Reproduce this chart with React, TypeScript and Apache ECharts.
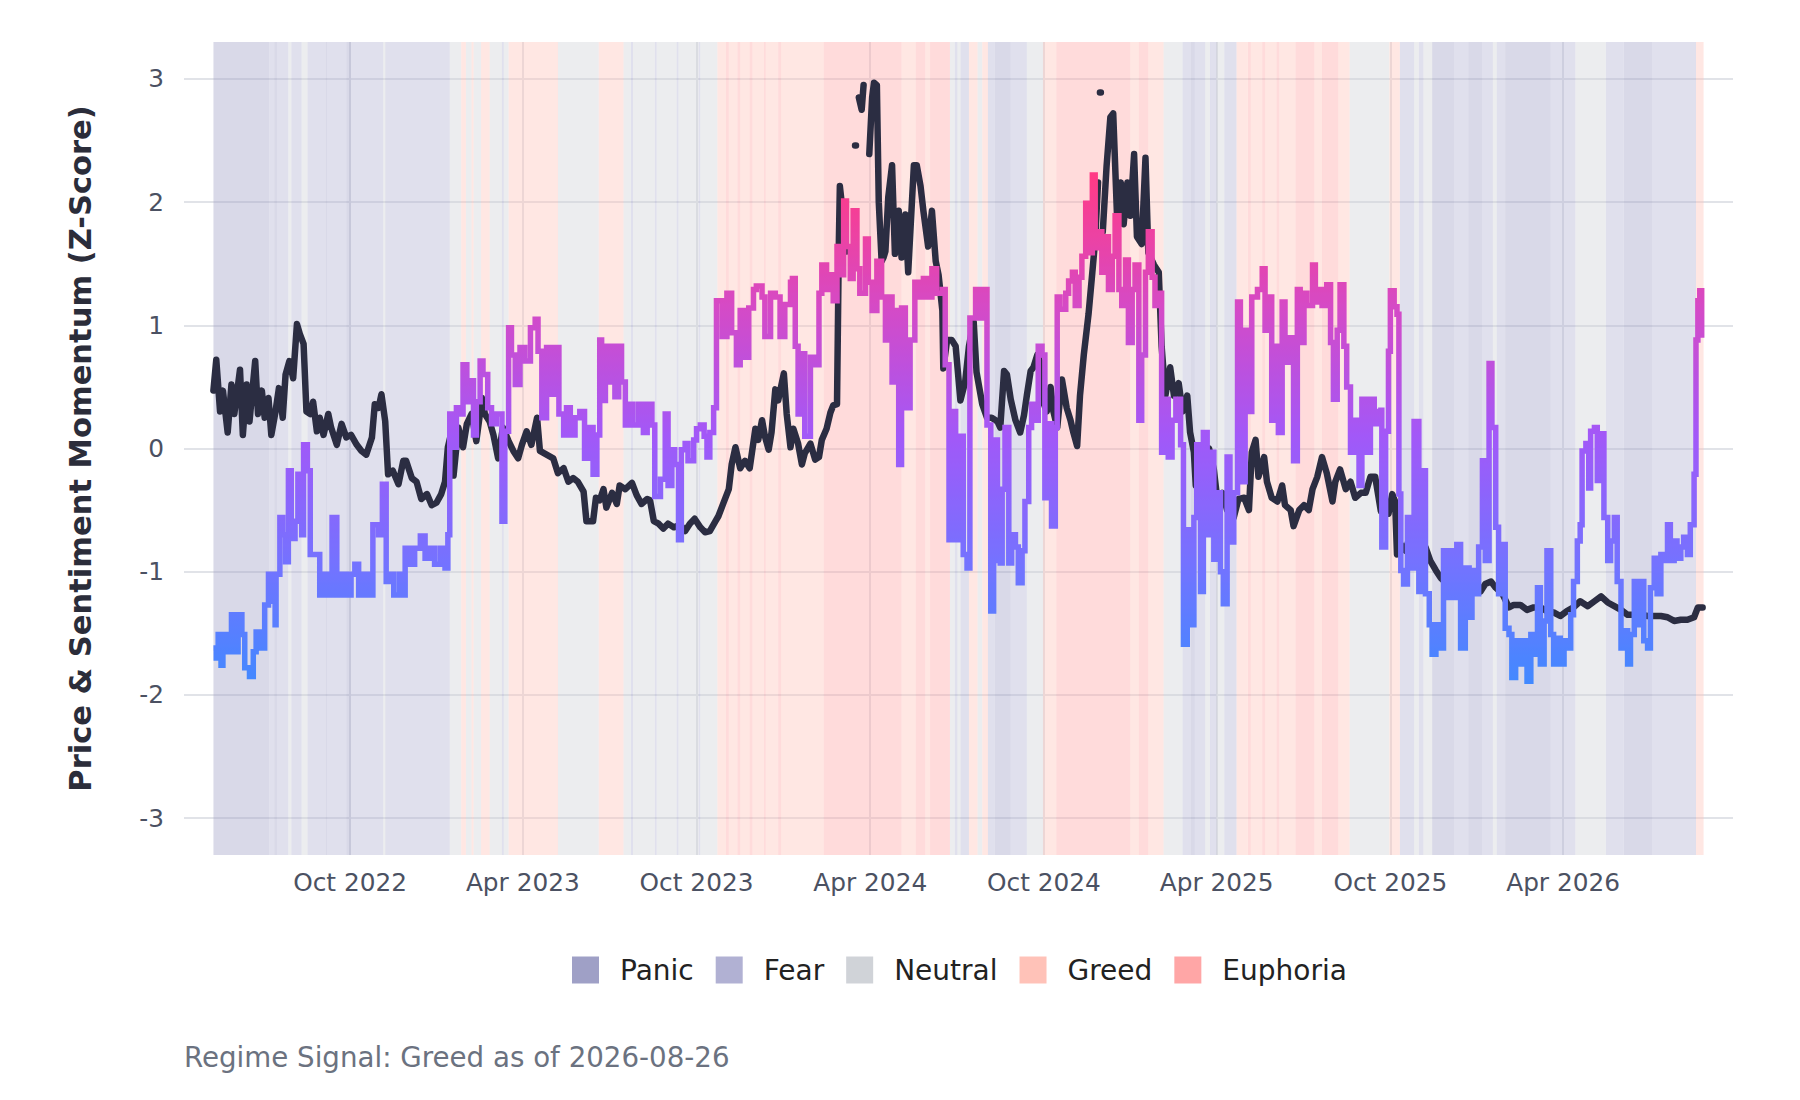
import { useEffect, useRef } from "react";
import * as echarts from "echarts";

// day 0 of the series = 2022-05-10
const START = Date.UTC(2022, 4, 10);
const DAY = 86400000;
const X_MIN_DAY = -31;
const X_MAX_DAY = 1601;

const tickDates = ["2022-10-01", "2023-04-01", "2023-10-01", "2024-04-01", "2024-10-01", "2025-04-01", "2025-10-01", "2026-04-01"];
const tickLabels = ["Oct 2022", "Apr 2023", "Oct 2023", "Apr 2024", "Oct 2024", "Apr 2025", "Oct 2025", "Apr 2026"];
const yTicks = [-3, -2, -1, 0, 1, 2, 3];

const regimeNames = ["Panic", "Fear", "Neutral", "Greed", "Euphoria"];
const regimeColors = ["#9fa0c6", "#b1b1d3", "#d0d3d8", "#ffc2b8", "#ffa6a6"];
const regimeBandColors = ["rgba(159,160,198,0.4)", "rgba(177,177,211,0.4)", "rgba(208,211,216,0.4)", "rgba(255,194,184,0.4)", "rgba(255,166,166,0.4)"];

// [start day, regime] — each run lasts until the next start
const regimeRuns: [number, string][] = [
  [0, "Panic"], [59, "Fear"], [64, "Panic"], [67, "Fear"], [79, "Neutral"], [82, "Fear"], [93, "Neutral"], [99, "Fear"],
  [118, "Panic"], [120, "Fear"], [140, "Panic"], [145, "Fear"], [179, "Neutral"], [181, "Fear"], [249, "Neutral"],
  [261, "Greed"], [266, "Neutral"], [272, "Greed"], [274, "Neutral"], [282, "Greed"], [291, "Neutral"], [304, "Fear"],
  [306, "Neutral"], [311, "Greed"], [363, "Neutral"], [406, "Greed"], [432, "Neutral"], [440, "Fear"], [442, "Neutral"],
  [465, "Fear"], [467, "Neutral"], [488, "Fear"], [490, "Neutral"], [511, "Fear"], [513, "Neutral"], [531, "Greed"],
  [540, "Euphoria"], [543, "Greed"], [552, "Euphoria"], [555, "Greed"], [565, "Euphoria"], [568, "Greed"], [580, "Euphoria"],
  [582, "Greed"], [595, "Euphoria"], [598, "Greed"], [643, "Euphoria"], [725, "Greed"], [740, "Euphoria"], [750, "Greed"],
  [755, "Euphoria"], [776, "Neutral"], [781, "Fear"], [784, "Neutral"], [787, "Fear"], [796, "Greed"], [805, "Neutral"],
  [810, "Greed"], [816, "Fear"], [823, "Panic"], [840, "Fear"], [857, "Neutral"], [874, "Greed"], [888, "Euphoria"],
  [966, "Greed"], [975, "Euphoria"], [985, "Greed"], [1001, "Neutral"], [1021, "Fear"], [1030, "Panic"], [1034, "Fear"],
  [1045, "Neutral"], [1050, "Fear"], [1057, "Neutral"], [1065, "Fear"], [1078, "Greed"], [1090, "Euphoria"], [1093, "Greed"],
  [1105, "Euphoria"], [1108, "Greed"], [1120, "Euphoria"], [1123, "Greed"], [1140, "Euphoria"], [1160, "Greed"],
  [1168, "Euphoria"], [1185, "Greed"], [1197, "Neutral"], [1239, "Greed"], [1250, "Fear"], [1265, "Neutral"], [1270, "Fear"],
  [1275, "Neutral"], [1284, "Panic"], [1307, "Fear"], [1322, "Panic"], [1337, "Fear"], [1348, "Neutral"], [1352, "Fear"],
  [1361, "Panic"], [1409, "Fear"], [1435, "Neutral"], [1467, "Fear"], [1486, "Panic"], [1516, "Fear"], [1562, "Greed"],
];
const REGIME_END_DAY = 1570;

// price momentum z-score, [day, value]; null = missing
const pricePoints: [number, number | null][] = [
  [0, 0.47], [3, 0.72], [7, 0.3], [10, 0.47], [15, 0.13], [19, 0.52], [22, 0.28], [28, 0.64], [31, 0.11], [35, 0.52],
  [38, 0.22], [44, 0.71], [47, 0.28], [51, 0.47], [54, 0.25], [58, 0.41], [61, 0.11], [65, 0.28], [69, 0.49], [73, 0.25],
  [76, 0.6], [80, 0.71], [84, 0.57], [88, 1.01], [91, 0.93], [95, 0.85], [98, 0.3], [102, 0.28], [105, 0.38], [109, 0.14],
  [112, 0.25], [116, 0.11], [121, 0.28], [124, 0.17], [130, 0.03], [135, 0.2], [140, 0.09], [145, 0.11], [151, 0.03],
  [156, -0.02], [161, -0.05], [167, 0.09], [170, 0.36], [174, 0.33], [177, 0.44], [181, 0.22], [184, -0.21], [189, -0.18],
  [195, -0.29], [200, -0.1], [203, -0.1], [209, -0.24], [214, -0.27], [219, -0.41], [225, -0.37], [230, -0.46], [235, -0.44],
  [240, -0.37], [244, -0.27], [247, 0.01], [251, 0.14], [253, -0.22], [258, 0.17], [263, 0.01], [267, 0.2], [272, 0.28],
  [277, 0.06], [283, 0.41], [286, 0.28], [291, 0.22], [295, 0.11], [300, -0.08], [305, 0.17], [311, 0.06], [316, -0.02],
  [321, -0.08], [325, 0.03], [330, 0.14], [335, 0.03], [341, 0.25], [344, -0.02], [351, -0.05], [358, -0.08], [363, -0.2],
  [369, -0.16], [374, -0.27], [379, -0.24], [384, -0.27], [390, -0.35], [393, -0.59], [400, -0.59], [403, -0.4],
  [407, -0.42], [411, -0.33], [414, -0.48], [420, -0.36], [425, -0.45], [428, -0.3], [434, -0.33], [441, -0.28], [446, -0.38],
  [451, -0.45], [457, -0.41], [460, -0.42], [464, -0.59], [469, -0.61], [474, -0.65], [479, -0.61], [485, -0.64], [492, -0.62],
  [497, -0.67], [502, -0.61], [507, -0.57], [513, -0.64], [518, -0.68], [523, -0.67], [529, -0.59], [532, -0.55], [537, -0.45],
  [543, -0.33], [546, -0.13], [550, 0.01], [555, -0.16], [560, -0.1], [565, -0.16], [571, 0.16], [574, 0.07], [578, 0.23],
  [581, 0.1], [585, -0.01], [588, 0.13], [592, 0.48], [595, 0.39], [601, 0.61], [604, 0.28], [608, 0.01], [611, 0.16],
  [616, 0.04], [620, -0.13], [623, -0.04], [629, 0.04], [634, -0.09], [638, -0.07], [641, 0.07], [646, 0.16], [650, 0.29],
  [653, 0.35], [657, 0.36], [659, 1.7], [660, 2.13], [664, 1.85], [667, 1.6], [668, null], [676, 2.46], [677, 2.46],
  [678, null], [680, 2.85], [683, 2.75], [685, 2.95], [686, null], [691, 2.39], [694, 2.85], [696, 2.97], [699, 2.95],
  [701, 2.0], [704, 1.52], [706, 1.55], [708, 1.6], [711, 2.04], [715, 2.3], [718, 1.58], [722, 1.93], [725, 1.55],
  [729, 1.9], [732, 1.43], [738, 2.3], [741, 2.3], [745, 2.13], [748, 1.93], [753, 1.64], [757, 1.93], [761, 1.52],
  [764, 1.41], [768, 1.12], [769, 0.65], [773, 0.88], [778, 0.88], [782, 0.83], [787, 0.39], [792, 0.54], [796, 0.83],
  [801, 1.03], [804, 0.62], [810, 0.36], [815, 0.25], [820, 0.25], [826, 0.22],
  [829, 0.17], [833, 0.63], [836, 0.6], [840, 0.4], [845, 0.23], [850, 0.13], [854, 0.27], [857, 0.43], [861, 0.63],
  [864, 0.66], [868, 0.76], [871, 0.7], [875, 0.36], [878, 0.3], [882, 0.5], [885, 0.3], [889, 0.17], [894, 0.56],
  [899, 0.33], [903, 0.23], [906, 0.13], [910, 0.02], [913, 0.43], [917, 0.76], [922, 1.09], [926, 1.43], [929, 1.69],
  [932, 2.16], [933, null], [934, 2.89], [935, 2.89], [936, null], [937, 1.76], [941, 2.29], [945, 2.69], [948, 2.72],
  [952, 1.89], [956, 2.16], [959, 1.82], [963, 2.16], [966, 1.89], [970, 2.39], [973, 1.72], [978, 1.66], [982, 2.36],
  [985, 1.59], [991, 1.49], [996, 1.43], [999, 0.83], [1003, 0.43], [1008, 0.66], [1012, 0.43], [1017, 0.53], [1021, 0.3],
  [1026, 0.43], [1029, 0.13], [1033, -0.03], [1035, -0.3], [1038, -0.03], [1043, -0.1], [1049, 0], [1054, -0.17],
  [1059, -0.5], [1063, -0.36], [1068, -0.5], [1075, -0.56], [1080, -0.41], [1086, -0.4], [1091, -0.5], [1094, -0.03],
  [1098, 0.07], [1101, -0.23], [1107, -0.07], [1110, -0.27], [1115, -0.4], [1121, -0.43], [1126, -0.3], [1129, -0.46],
  [1135, -0.5], [1138, -0.63], [1144, -0.5], [1149, -0.46], [1154, -0.5], [1158, -0.33], [1163, -0.23], [1168, -0.07],
  [1173, -0.2], [1179, -0.43], [1182, -0.27], [1187, -0.17], [1193, -0.33], [1198, -0.27], [1203, -0.4], [1209, -0.36],
  [1214, -0.36], [1219, -0.23], [1224, -0.23],
  [1230, -0.51], [1235, -0.45], [1238, -0.53], [1242, -0.37], [1245, -0.43], [1247, -0.86], [1251, -0.78], [1256, -0.83],
  [1261, -0.7], [1267, -0.83], [1272, -0.78], [1277, -0.8], [1282, -0.91], [1288, -0.99], [1293, -1.05], [1300, -1.1],
  [1305, -1.08], [1312, -1.1], [1317, -1.16], [1324, -1.18], [1330, -1.13], [1335, -1.16], [1340, -1.1], [1346, -1.08],
  [1351, -1.13], [1358, -1.18], [1365, -1.29], [1370, -1.27], [1377, -1.27], [1384, -1.31], [1391, -1.29], [1398, -1.29],
  [1405, -1.32], [1412, -1.33], [1419, -1.36], [1426, -1.32], [1433, -1.29], [1440, -1.24], [1448, -1.28], [1455, -1.24],
  [1462, -1.2], [1469, -1.25], [1476, -1.28], [1483, -1.31], [1490, -1.35], [1497, -1.35], [1504, -1.35], [1511, -1.36],
  [1518, -1.36], [1525, -1.36], [1532, -1.37], [1539, -1.4], [1546, -1.39], [1553, -1.39], [1560, -1.37], [1564, -1.29],
  [1569, -1.29],
];

// sentiment momentum z-score, [day, value]
const sentimentPoints: [number, number][] = [
  [0, -1.62], [3, -1.7], [5, -1.51], [8, -1.76], [10, -1.51], [15, -1.65], [19, -1.35], [22, -1.65], [26, -1.35], [30, -1.51],
  [33, -1.78], [38, -1.85], [42, -1.65], [45, -1.49], [49, -1.62], [54, -1.27], [58, -1.02], [61, -1.24], [65, -1.43],
  [66, -1.02], [70, -0.56], [73, -0.7], [76, -0.92], [79, -0.18], [82, -0.73], [86, -0.59], [89, -0.21], [93, -0.7], [95, 0.03],
  [99, -0.18], [102, -0.86], [107, -0.86], [112, -1.19], [117, -1.02], [121, -1.19], [125, -0.56], [130, -1.19], [135, -1.02],
  [140, -1.19], [145, -1.02], [149, -0.94], [153, -1.19], [158, -1.02], [163, -1.19], [168, -0.62], [174, -0.7], [178, -0.29],
  [182, -1.08], [186, -1.02], [190, -1.19], [196, -1.02], [199, -1.19], [202, -0.81], [207, -0.94], [212, -0.81], [218, -0.71],
  [223, -0.89], [228, -0.81], [233, -0.94], [239, -0.81], [244, -0.97], [247, -0.7], [249, 0.28], [253, 0.01], [256, 0.33],
  [260, 0.28], [263, 0.68], [267, 0.38], [270, 0.55], [274, 0.11], [277, 0.38], [281, 0.71], [284, 0.6], [289, 0.33],
  [293, 0.2], [298, 0.28], [304, -0.59], [307, 0.14], [311, 0.98], [314, 0.76], [318, 0.52], [323, 0.82], [328, 0.71],
  [334, 0.98], [339, 1.05], [342, 0.79], [346, 0.25], [351, 0.82], [356, 0.44], [360, 0.82], [364, 0.28], [369, 0.11],
  [372, 0.33], [376, 0.11], [381, 0.25], [386, 0.3], [391, -0.08], [395, 0.17], [400, -0.21], [404, 0.11],
  [407, 0.88], [409, 0.39], [413, 0.83], [416, 0.54], [420, 0.83], [423, 0.42], [427, 0.83], [430, 0.54], [434, 0.19],
  [439, 0.36], [442, 0.19], [448, 0.36], [453, 0.13], [457, 0.36], [462, 0.19], [465, -0.39], [471, -0.25], [476, 0.28],
  [479, -0.3], [483, -0.01], [486, -0.13], [490, -0.74], [493, -0.01], [497, 0.04], [500, -0.1], [506, 0.07], [509, 0.16],
  [513, 0.19], [517, 0.1], [520, -0.07], [523, 0.13], [527, 0.33], [530, 1.2], [536, 0.91], [541, 1.26], [546, 0.94],
  [551, 0.68], [555, 1.12], [560, 0.74], [564, 1.14], [569, 1.29], [572, 1.32], [578, 1.23], [581, 0.91], [587, 1.26],
  [592, 1.23], [597, 0.91], [602, 1.17], [608, 1.35], [610, 1.38], [613, 0.83], [616, 0.28], [620, 0.77], [623, 0.1],
  [629, 0.74], [634, 0.68], [638, 1.26], [641, 1.49], [646, 1.29], [650, 1.41], [653, 1.2], [657, 1.64], [660, 1.41],
  [664, 2.01], [667, 1.64], [671, 1.38], [674, 1.93], [678, 1.46], [681, 1.26], [687, 1.7], [690, 1.35], [694, 1.12],
  [699, 1.52], [704, 1.23], [708, 0.88], [711, 1.23], [715, 0.54], [718, 1.12], [722, -0.13], [725, 1.14], [729, 0.33],
  [734, 0.88], [739, 1.35], [743, 1.23], [748, 1.38], [753, 1.23], [757, 1.46], [762, 1.26], [768, 1.29], [771, 0.68],
  [775, -0.74], [778, 0.3], [782, -0.74], [785, 0.1], [790, -0.86], [794, -0.97], [797, 1.06], [803, 1.29], [808, 1.06],
  [811, 1.29], [815, 0.19], [819, -1.32], [822, 0.07], [826, -0.91],
  [829, -0.93], [831, -0.33], [834, 0.17], [838, -0.93], [841, -0.7], [845, -0.8], [848, -1.09], [852, -0.83], [855, -0.43],
  [859, 0.17], [862, 0.36], [866, 0.23], [869, 0.83], [873, 0.76], [876, -0.4], [880, 0.2], [883, -0.63], [887, 0.17],
  [889, 1.23], [892, 1.13], [898, 1.26], [901, 1.36], [905, 1.43], [908, 1.16], [912, 1.39], [915, 1.56], [919, 1.99],
  [922, 1.59], [926, 2.22], [929, 1.63], [933, 1.76], [936, 1.43], [940, 1.72], [943, 1.29], [947, 1.56], [950, 1.89],
  [954, 1.29], [957, 1.16], [961, 1.53], [964, 0.86], [968, 1.29], [971, 1.49], [975, 0.23], [978, 0.76], [982, 1.43],
  [985, 1.76], [989, 1.39], [992, 1.16], [996, 1.26], [999, -0.03], [1003, 0.4], [1006, -0.07], [1010, 0.23], [1014, 0.4],
  [1019, 0.03], [1022, -1.59], [1026, -0.66], [1029, -1.43], [1033, -0.56], [1036, 0.03], [1040, -1.16], [1043, 0.13],
  [1047, -0.7], [1050, -0.03], [1054, -0.9], [1057, -0.36], [1061, -1.0], [1064, -1.26], [1068, -0.07], [1071, -0.76],
  [1075, -0.36], [1079, 1.19], [1082, -0.27], [1087, 0.96], [1091, 0.3], [1094, 1.23], [1100, 1.29], [1105, 1.46],
  [1108, 0.96], [1112, 1.23], [1115, 0.23], [1119, 0.83], [1122, 0.13], [1126, 1.19], [1129, 0.7], [1133, 0.9], [1138, -0.1],
  [1142, 1.29], [1145, 0.86], [1149, 1.26], [1152, 1.16], [1158, 1.49], [1161, 1.19], [1165, 1.29], [1168, 1.16],
  [1173, 1.33], [1177, 0.86], [1180, 0.4], [1184, 0.96], [1187, 1.33], [1191, 0.83], [1194, 0.5], [1198, -0.03], [1202, 0.23],
  [1207, -0.3], [1210, 0.4], [1214, -0.03], [1219, 0.4], [1223, 0.2], [1226, 0.3],
  [1230, 0.31], [1231, -0.8], [1235, 0.14], [1238, 0.79], [1240, 1.28], [1244, 1.15], [1247, 1.09], [1249, -0.37],
  [1251, -0.99], [1254, -1.1], [1258, -0.56], [1261, -0.97], [1265, 0.22], [1268, 0.22], [1270, -1.16], [1274, -0.18],
  [1277, -1.18], [1281, -1.43], [1284, -1.67], [1288, -1.43], [1293, -1.62], [1296, -0.83], [1300, -1.21], [1303, -0.83],
  [1307, -1.21], [1310, -0.78], [1314, -1.62], [1319, -0.97], [1323, -1.37], [1326, -0.99], [1330, -1.18], [1333, -0.8],
  [1337, -0.1], [1340, -0.91], [1344, 0.69], [1347, 0.17], [1351, -0.64], [1354, -1.18], [1358, -0.78], [1361, -1.46],
  [1365, -1.51], [1368, -1.86], [1372, -1.56], [1375, -1.75], [1379, -1.56], [1384, -1.89], [1388, -1.51], [1391, -1.67],
  [1395, -1.13], [1398, -1.75], [1402, -1.4], [1405, -0.83], [1409, -1.51], [1412, -1.75], [1416, -1.54], [1419, -1.75],
  [1423, -1.56], [1426, -1.62], [1430, -1.35], [1433, -1.08], [1437, -0.75], [1440, -0.62], [1442, -0.02], [1446, 0.04],
  [1449, -0.32], [1451, 0.14], [1455, 0.17], [1458, -0.26], [1462, 0.12], [1465, -0.56], [1469, -0.91], [1472, -0.75],
  [1476, -0.56], [1479, -1.08], [1483, -1.62], [1486, -1.48], [1490, -1.75], [1493, -1.51], [1497, -1.08], [1500, -1.43],
  [1504, -1.08], [1507, -1.56], [1511, -1.62], [1514, -1.13], [1518, -0.89], [1521, -1.18], [1525, -0.86], [1528, -0.91],
  [1532, -0.62], [1535, -0.91], [1539, -0.75], [1542, -0.89], [1546, -0.8], [1549, -0.72], [1553, -0.86], [1556, -0.62],
  [1560, -0.21], [1562, 0.88], [1564, 1.2], [1566, 1.28], [1568, 0.9],
];

const FONT = "DejaVu Sans";
const toMs = (d: number) => START + d * DAY;

const App = () => {
  const chartRef = useRef<HTMLDivElement>(null);

  useEffect(() => {
    document.body.style.margin = "0";
    if (!chartRef.current) return;
    const chart = echarts.init(chartRef.current, undefined, { renderer: "svg" });

    const tickValues = tickDates.map((d) => Date.parse(d + "T00:00:00Z"));

    const regimeSeries = regimeNames.map((name, ri) => {
      const areas: any[] = [];
      regimeRuns.forEach(([start, reg], i) => {
        if (reg !== name) return;
        const end = i + 1 < regimeRuns.length ? regimeRuns[i + 1][0] : REGIME_END_DAY;
        areas.push([{ xAxis: toMs(start) }, { xAxis: toMs(end) }]);
      });
      return {
        name,
        type: "line",
        data: [],
        color: regimeColors[ri],
        itemStyle: { color: regimeColors[ri] },
        z: 2,
        silent: true,
        markArea: {
          z: 1,
          silent: true,
          label: { show: false },
          itemStyle: { color: regimeBandColors[ri], borderWidth: 0 },
          emphasis: { disabled: true },
          data: areas,
        },
      };
    });

    const gridLineStyle = { color: "#e1e3e8", width: 2, type: "solid" };

    chart.setOption({
      animation: false,
      grid: { left: 184, right: 67, top: 42, bottom: 245, outerBoundsMode: "none" },
      xAxis: {
        type: "value",
        min: toMs(X_MIN_DAY),
        max: toMs(X_MAX_DAY),
        axisLine: { show: false },
        axisTick: { show: false },
        splitLine: { show: false },
        axisLabel: {
          customValues: tickValues,
          formatter: (v: number) => {
            const i = tickValues.indexOf(v);
            return i >= 0 ? tickLabels[i] : "";
          },
          margin: 15,
          fontSize: 24.8,
          fontFamily: FONT,
          color: "#4b5162",
        },
      },
      yAxis: {
        type: "value",
        min: -3.3,
        max: 3.3,
        axisLine: { show: false },
        axisTick: { show: false },
        splitLine: { show: false },
        axisLabel: {
          customValues: yTicks,
          formatter: (v: number) => String(v),
          margin: 20,
          fontSize: 24.8,
          fontFamily: FONT,
          color: "#4b5162",
        },
        name: "Price & Sentiment Momentum (Z-Score)",
        nameLocation: "middle",
        nameGap: 88,
        nameTextStyle: { fontSize: 30.5, fontWeight: "bold", fontFamily: FONT, color: "#2b2d3a" },
      },
      legend: {
        data: regimeNames.map((n, i) => ({ name: n, itemStyle: { color: regimeColors[i] } })),
        left: 572,
        top: 956,
        padding: 0,
        icon: "rect",
        itemWidth: 27,
        itemHeight: 27,
        itemGap: 22,
        selectedMode: false,
        textStyle: { fontSize: 28, fontFamily: FONT, color: "#222222", padding: [0, 0, 0, 16] },
      },
      visualMap: {
        show: false,
        type: "continuous",
        seriesIndex: 7,
        dimension: 1,
        min: -2,
        max: 2.2,
        inRange: { color: ["#3d8bff", "#7373ff", "#a258f8", "#d54ac6", "#ff3b86"] },
      },
      graphic: [
        {
          type: "text",
          x: 184,
          y: 1057,
          style: {
            text: "Regime Signal: Greed as of 2026-08-26",
            font: `27.7px "${FONT}"`,
            fill: "#6b7280",
            verticalAlign: "middle",
          },
        },
      ],
      series: [
        {
          name: "grid",
          type: "line",
          data: [],
          z: 1,
          silent: true,
          markLine: {
            z: 0,
            silent: true,
            symbol: ["none", "none"],
            label: { show: false },
            lineStyle: gridLineStyle,
            emphasis: { disabled: true },
            data: [
              ...yTicks.map((v) => ({ yAxis: v })),
              ...tickValues.map((t) => ({ xAxis: t })),
            ],
          },
        },
        ...regimeSeries,
        {
          name: "Price",
          type: "line",
          z: 3,
          showSymbol: false,
          connectNulls: false,
          data: pricePoints.map(([d, v]) => [toMs(d), v]),
          lineStyle: { color: "#2b2d42", width: 6.5, cap: "round", join: "round" },
          itemStyle: { color: "#2b2d42" },
          emphasis: { disabled: true },
        },
        {
          name: "Sentiment",
          type: "line",
          z: 4,
          step: "end",
          showSymbol: false,
          data: sentimentPoints.map(([d, v]) => [toMs(d), v]),
          lineStyle: { width: 5.5, cap: "butt", join: "miter" },
          emphasis: { disabled: true },
        },
      ],
    });

    return () => {
      chart.dispose();
    };
  }, []);

  return <div ref={chartRef} style={{ width: "1800px", height: "1100px" }}></div>;
};

export default App;
